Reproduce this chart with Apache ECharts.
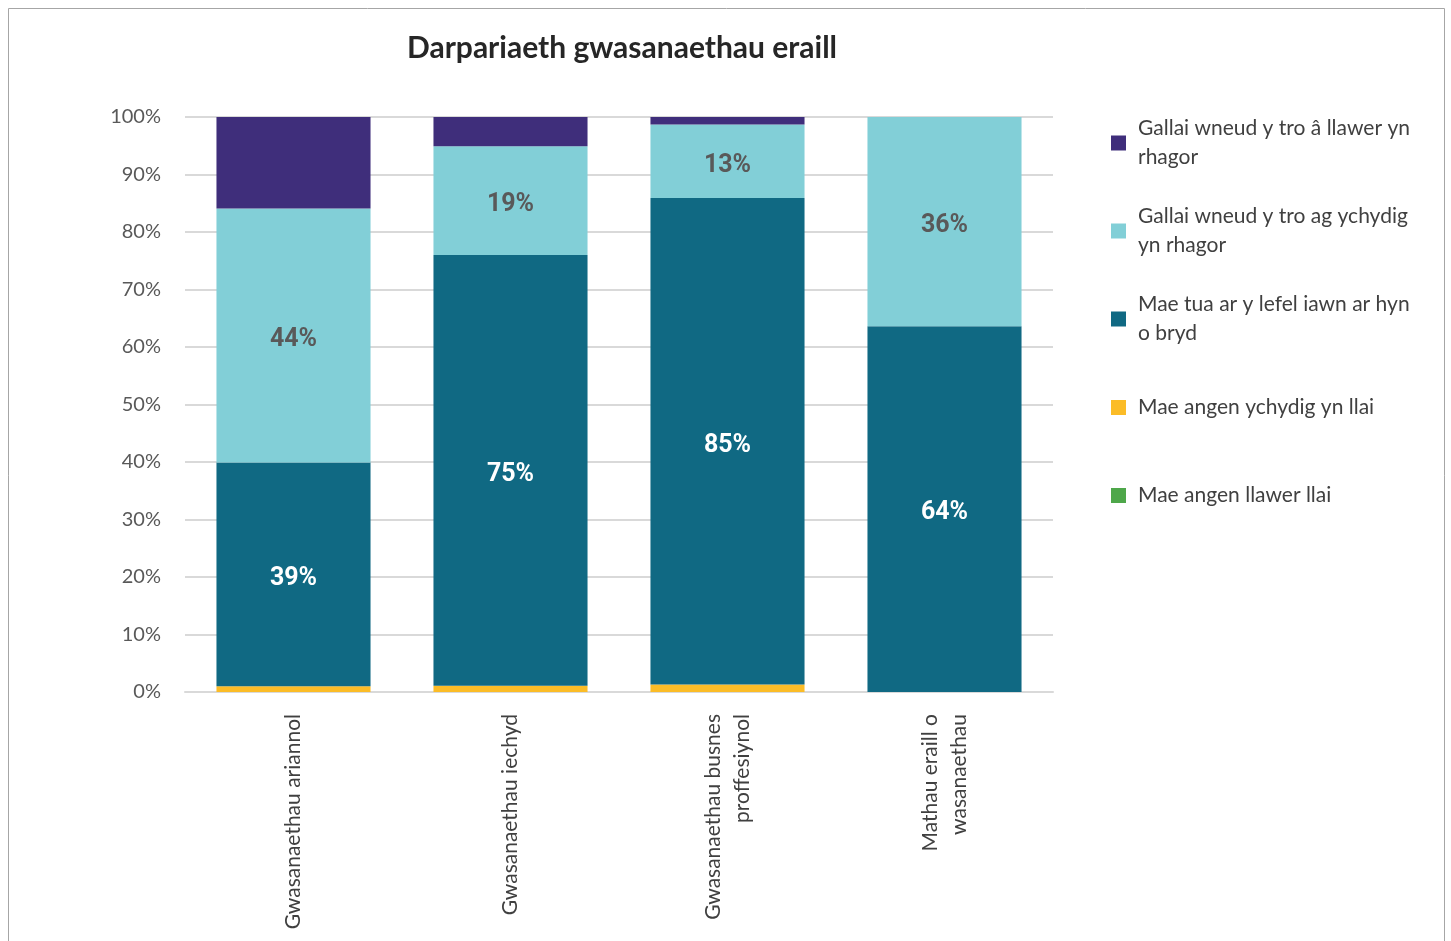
<!DOCTYPE html>
<html>
<head>
<meta charset="utf-8">
<script src="https://cdn.jsdelivr.net/npm/echarts@6/dist/echarts.min.js"></script>
<style>
  html, body { margin: 0; padding: 0; background: #fff; }
  #main { width: 1451px; height: 941px; }
</style>
</head>
<body>
<div id="main"></div>
<script>
var categories = ['Gwasanaethau ariannol', 'Gwasanaethau iechyd', 'Gwasanaethau busnes\nproffesiynol', 'Mathau eraill o\nwasanaethau'];
var seriesNames = ['Mae angen llawer llai', 'Mae angen ychydig yn llai', 'Mae tua ar y lefel iawn ar hyn o bryd', 'Gallai wneud y tro ag ychydig yn rhagor', 'Gallai wneud y tro â llawer yn rhagor'];
var legendText = ['Mae angen llawer llai', 'Mae angen ychydig yn llai', 'Mae tua ar y lefel iawn ar hyn\no bryd', 'Gallai wneud y tro ag ychydig\nyn rhagor', 'Gallai wneud y tro â llawer yn\nrhagor'];
var llawerLlai = [0, 0, 0, 0];
var ychydigLlai = [1, 1.1, 1.3, 0];
var lefelIawn = [38.9, 74.9, 84.6, 63.6];
var ychydigRhagor = [44.2, 18.9, 12.8, 36.4];
var llawerRhagor = [15.9, 5.1, 1.3, 0];
var colours = ['#4ea74a', '#fbbc27', '#106983', '#82cfd7', '#3f2e7b'];

var chart = echarts.init(document.getElementById('main'));
var baseFont = 'Lato, "Noto Sans", sans-serif';
var labelFont = '"Liberation Sans Narrow", "Roboto", sans-serif';

var allData = [llawerLlai, ychydigLlai, lefelIawn, ychydigRhagor, llawerRhagor];
var series = seriesNames.map(function (name, i) {
  var s = {
    name: name,
    type: 'bar',
    stack: 'total',
    barWidth: '71%',
    data: allData[i],
    itemStyle: { color: colours[i] },
    label: { show: false }
  };
  if (i === 2 || i === 3) {
    s.label = {
      show: true,
      position: 'inside',
      offset: [0, 4],
      fontFamily: labelFont,
      fontWeight: 'bold',
      fontSize: 25,
      color: i === 2 ? '#ffffff' : '#595959',
      formatter: function (p) { return Math.round(p.value) + '%'; }
    };
  }
  return s;
});

// one legend per item so the rows keep even spacing
var legendTops = [109, 197, 285, 388, 476];
var legendOrder = [4, 3, 2, 1, 0];
var legends = legendOrder.map(function (idx, k) {
  return {
    data: [seriesNames[idx]],
    orient: 'vertical',
    left: 1106,
    top: legendTops[k],
    itemWidth: 15,
    itemHeight: 15,
    itemGap: 10,
    selectedMode: false,
    icon: 'rect',
    formatter: function () { return legendText[idx]; },
    textStyle: { fontFamily: baseFont, fontSize: 21, color: '#404040', lineHeight: 29, padding: [0, 0, 0, 7] }
  };
});

var option = {
  backgroundColor: '#ffffff',
  animation: false,
  title: {
    text: 'Darpariaeth gwasanaethau eraill',
    left: 402,
    top: 28,
    textStyle: { fontFamily: baseFont, fontSize: 30, fontWeight: 'bold', color: '#262626' }
  },
  graphic: [{
    type: 'rect',
    shape: { x: 8.5, y: 8.5, width: 1436, height: 960 },
    style: { fill: 'none', stroke: '#a6a6a6', lineWidth: 1 },
    silent: true
  }],
  legend: legends,
  grid: { left: 185, right: 398, top: 117, bottom: 249, containLabel: false },
  xAxis: {
    type: 'category',
    data: categories,
    axisLine: { lineStyle: { color: '#d9d9d9', width: 2 } },
    axisTick: { show: false },
    axisLabel: {
      rotate: 90,
      margin: 22,
      interval: 0,
      fontFamily: baseFont,
      fontSize: 21,
      color: '#404040',
      lineHeight: 29
    }
  },
  yAxis: {
    type: 'value',
    min: 0,
    max: 100,
    interval: 10,
    axisLine: { show: false },
    axisTick: { show: false },
    splitLine: { lineStyle: { color: '#d9d9d9', width: 2 } },
    axisLabel: {
      margin: 24,
      fontFamily: baseFont,
      fontSize: 20,
      color: '#595959',
      formatter: '{value}%'
    }
  },
  series: series
};
chart.setOption(option);
</script>
</body>
</html>
